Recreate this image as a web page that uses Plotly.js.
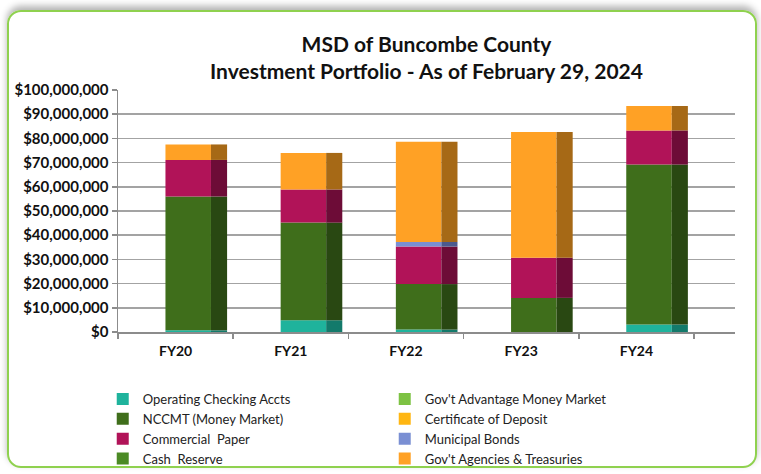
<!DOCTYPE html>
<html>
<head>
<meta charset="utf-8">
<script src="https://cdn.plot.ly/plotly-3.0.1.min.js"></script>
<style>
html,body{margin:0;padding:0;background:#fff;}
#wrap{position:relative;width:761px;height:474px;overflow:hidden;}
#chart{position:absolute;left:0;top:0;width:761px;height:474px;}
#frame{position:absolute;left:7px;top:10px;width:746px;height:454px;border:2px solid #8fd14f;border-radius:14px;box-shadow:0 -4px 7px rgba(0,0,0,0.30);pointer-events:none;}
</style>
</head>
<body>
<div id="wrap"><div id="chart"></div><div id="frame"></div></div>
<script>
// ---- data (USD) ----
var categories = ['FY20', 'FY21', 'FY22', 'FY23', 'FY24'];
var operatingChecking = [700000, 4850000, 1000000, 0, 3100000];
var govAdvantageMM   = [0, 0, 0, 0, 0];
var nccmt            = [55300000, 40350000, 18800000, 14100000, 66100000];
var certDeposit      = [0, 0, 0, 0, 0];
var commercialPaper  = [15100000, 13700000, 15500000, 16600000, 14100000];
var municipalBonds   = [0, 0, 1900000, 0, 0];
var cashReserve      = [0, 0, 0, 0, 0];
var govAgencies      = [6400000, 15100000, 41400000, 51900000, 10100000];
var yTickVals = [0,10000000,20000000,30000000,40000000,50000000,60000000,70000000,80000000,90000000,100000000];
var yTickText = ['$0','$10,000,000','$20,000,000','$30,000,000','$40,000,000','$50,000,000','$60,000,000','$70,000,000','$80,000,000','$90,000,000','$100,000,000'];

// ---- series (legend order, row-major) with stacking order ----
var series = [
  {name:'Operating Checking Accts',     y:operatingChecking, color:'#1fb39c', side:'#137a6b', stack:0},
  {name:"Gov't Advantage Money Market", y:govAdvantageMM,    color:'#7dc243', side:'#55862c', stack:1},
  {name:'NCCMT (Money Market)',         y:nccmt,             color:'#3f6e1b', side:'#294812', stack:2},
  {name:'Certificate of Deposit',       y:certDeposit,       color:'#ffb612', side:'#a8780c', stack:3},
  {name:'Commercial  Paper',            y:commercialPaper,   color:'#b11358', side:'#6d0c37', stack:4},
  {name:'Municipal Bonds',              y:municipalBonds,    color:'#7a8fd3', side:'#4b5a8e', stack:5},
  {name:'Cash  Reserve',                y:cashReserve,       color:'#4b8a25', side:'#305a18', stack:6},
  {name:"Gov't Agencies & Treasuries",  y:govAgencies,       color:'#ffa125', side:'#a66916', stack:7}
];

// compute bases in stacking order
var ordered = series.slice().sort(function(a,b){return a.stack-b.stack;});
var running = categories.map(function(){return 0;});
ordered.forEach(function(s){
  s.base = running.slice();
  running = running.map(function(v,i){return v + s.y[i];});
});

var FRONT_W = 0.395, FRONT_OFF = -0.088, SIDE_W = 0.14;
var FONT = 'Lato, "Liberation Sans", sans-serif';
var traces = [];
series.forEach(function(s){
  traces.push({
    type:'bar', name:s.name, x:categories, y:s.y, base:s.base,
    width:categories.map(function(){return FRONT_W;}),
    offset:categories.map(function(){return FRONT_OFF;}),
    marker:{color:s.color, line:{width:0}},
    hoverinfo:'skip', showlegend:true
  });
});
series.forEach(function(s){
  traces.push({
    type:'bar', name:s.name+' side', x:categories, y:s.y, base:s.base,
    width:categories.map(function(){return SIDE_W;}),
    offset:categories.map(function(){return FRONT_OFF+FRONT_W;}),
    marker:{color:s.side, line:{width:0}},
    hoverinfo:'skip', showlegend:false
  });
});

var layout = {
  width:761, height:474,
  margin:{l:118, r:26, t:90, b:142, pad:0},
  paper_bgcolor:'#ffffff', plot_bgcolor:'#ffffff',
  barmode:'overlay',
  font:{family:FONT, color:'#000'},
  title:{
    text:'MSD of Buncombe County<br>Investment Portfolio - As of February 29, 2024',
    font:{family:FONT, size:21, color:'#111', weight:'bold'},
    x:0.5, xref:'paper', xanchor:'center', y:0.89, yref:'container', yanchor:'middle'
  },
  xaxis:{
    type:'category', range:[-0.5, 4.856], tickson:'boundaries',
    showline:true, linecolor:'#8c8c8c', linewidth:1.5,
    ticks:'outside', ticklen:5, tickcolor:'#8c8c8c', tickwidth:1.5,
    showgrid:false, zeroline:false, ticklabelstandoff:6,
    tickfont:{family:FONT, size:14, color:'#111', weight:'bold'}
  },
  yaxis:{
    range:[0, 100000000], tickvals:yTickVals, ticktext:yTickText,
    showline:true, linecolor:'#8c8c8c', linewidth:1.5,
    ticks:'outside', ticklen:5, tickcolor:'#8c8c8c', tickwidth:1.5,
    showgrid:true, gridcolor:'#a3a3a3', gridwidth:1.6, zeroline:false,
    tickfont:{family:FONT, size:15, color:'#111', weight:'bold'}
  },
  legend:{
    orientation:'h', xref:'container', yref:'container',
    x:0.135, y:0.19, xanchor:'left', yanchor:'top',
    entrywidth:237, entrywidthmode:'pixels',
    itemwidth:30, tracegroupgap:0,
    font:{family:FONT, size:13, color:'#222'},
    bgcolor:'rgba(0,0,0,0)', traceorder:'normal'
  },
  showlegend:true
};

Plotly.newPlot('chart', traces, layout, {staticPlot:true, displayModeBar:false});
</script>
</body>
</html>
